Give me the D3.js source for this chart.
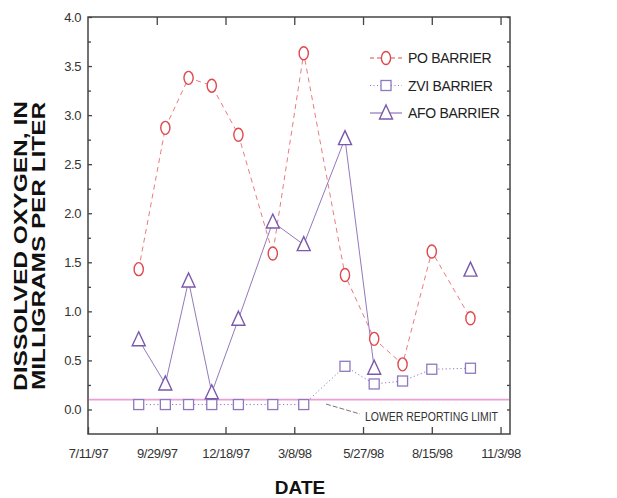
<!DOCTYPE html>
<html>
<head>
<meta charset="utf-8">
<script src="https://cdn.jsdelivr.net/npm/d3@7"></script>
<style>
  body { margin: 0; background: #fff; }
  svg { display: block; font-family: "Liberation Sans", Arial, Helvetica, sans-serif; }
</style>
</head>
<body>
<svg id="chart" width="617" height="498"></svg>
<script>
// ---- data ----
const sampleDates = ["1997-09-08","1997-10-09","1997-11-05","1997-12-02","1998-01-02","1998-02-11","1998-03-19","1998-05-06","1998-06-09","1998-07-12","1998-08-15","1998-09-29"];
const poBarrier  = [1.43, 2.87, 3.38, 3.30, 2.80, 1.59, 3.63, 1.37, 0.72, 0.46, 1.61, 0.93];
const zviBarrier = [0.05, 0.05, 0.05, 0.05, 0.05, 0.05, 0.05, 0.44, 0.26, 0.29, 0.41, 0.42];
const afoBarrier = [0.71, 0.26, 1.31, 0.17, 0.92, 1.91, 1.68, 2.76, 0.42, null, null, 1.42];
const xTickDates  = ["1997-07-11","1997-09-29","1997-12-18","1998-03-08","1998-05-27","1998-08-15","1998-11-03"];
const xTickLabels = ["7/11/97","9/29/97","12/18/97","3/8/98","5/27/98","8/15/98","11/3/98"];
const yMajorTicks = [0, 0.5, 1.0, 1.5, 2.0, 2.5, 3.0, 3.5, 4.0];
const yTickLabels = ["0.0","0.5","1.0","1.5","2.0","2.5","3.0","3.5","4.0"];
const yMinorTicks = [-0.25, 0.25, 0.75, 1.25, 1.75, 2.25, 2.75, 3.25, 3.75];
const lowerReportingLimit = 0.1;
const seriesNames = ["PO BARRIER", "ZVI BARRIER", "AFO BARRIER"];
const xDomain = ["1997-07-11", "1998-11-14"];
const yDomain = [-0.25, 4.0];

// ---- setup ----
const parse = d3.utcParse("%Y-%m-%d");
const svg = d3.select("#chart");
const L = 88, T = 17, R = 510, B = 434;
const x = d3.scaleUtc().domain(xDomain.map(parse)).range([L, R]);
const y = d3.scaleLinear().domain(yDomain).range([B, T]);

const axisColor = "#444";
const red = "#e0474c";
const purple = "#7a58ab";
const purpleLight = "#8f78bf";

// frame
svg.append("rect").attr("x", L).attr("y", T).attr("width", R - L).attr("height", B - T)
  .attr("fill", "none").attr("stroke", axisColor).attr("stroke-width", 1.5);

// x axes (ticks inward)
const xt = xTickDates.map(parse);
const fmtX = d => xTickLabels[xt.findIndex(t => +t === +d)];
const bottomAx = svg.append("g").attr("transform", `translate(0,${B})`)
  .call(d3.axisBottom(x).tickValues(xt).tickSize(-7).tickPadding(15).tickFormat(fmtX));
const topAx = svg.append("g").attr("transform", `translate(0,${T})`)
  .call(d3.axisTop(x).tickValues(xt.slice(1)).tickSize(-8).tickFormat(""));
// y axes
const leftAx = svg.append("g").attr("transform", `translate(${L},0)`)
  .call(d3.axisLeft(y).tickValues(yMajorTicks).tickSize(-4).tickPadding(7)
    .tickFormat((d, i) => yTickLabels[i]));
const leftMinor = svg.append("g").attr("transform", `translate(${L},0)`)
  .call(d3.axisLeft(y).tickValues(yMinorTicks.slice(1)).tickSize(-3).tickFormat(""));
const rightAx = svg.append("g").attr("transform", `translate(${R},0)`)
  .call(d3.axisRight(y).tickValues(yMajorTicks.concat(yMinorTicks.slice(1))).tickSize(-3).tickFormat(""));

[bottomAx, topAx, leftAx, leftMinor, rightAx].forEach(g => {
  g.select(".domain").remove();
  g.selectAll("line").attr("stroke", axisColor).attr("stroke-width", 1.3);
  g.selectAll("text").attr("fill", "#333").style("font-size", "13px")
    .style("font-family", "'Liberation Sans', Arial, sans-serif").attr("letter-spacing", "-0.4");
});

// lower reporting limit
svg.append("line").attr("x1", L + 1).attr("x2", R - 1)
  .attr("y1", y(lowerReportingLimit)).attr("y2", y(lowerReportingLimit))
  .attr("stroke", "#ec9fd6").attr("stroke-width", 1.8);
svg.append("line").attr("x1", 326).attr("y1", 404).attr("x2", 360).attr("y2", 414)
  .attr("stroke", "#666").attr("stroke-width", 0.9).attr("stroke-dasharray", "5,2");
svg.append("text").attr("x", 365).attr("y", 421).text("LOWER REPORTING LIMIT")
  .attr("textLength", 133).attr("lengthAdjust", "spacingAndGlyphs")
  .attr("fill", "#333").style("font-size", "13px");

// series
const dts = sampleDates.map(parse);
function seriesData(vals) { return vals.map((v, i) => ({ d: dts[i], v })); }
const line = d3.line().defined(p => p.v !== null).x(p => x(p.d)).y(p => y(p.v));

const po = seriesData(poBarrier), zvi = seriesData(zviBarrier), afo = seriesData(afoBarrier);

svg.append("path").datum(zvi).attr("d", line).attr("fill", "none")
  .attr("stroke", purpleLight).attr("stroke-width", 1).attr("stroke-dasharray", "1.2,2.5");
svg.append("path").datum(afo).attr("d", line).attr("fill", "none")
  .attr("stroke", purple).attr("stroke-width", 0.9).attr("opacity", 0.9);
svg.append("path").datum(po).attr("d", line).attr("fill", "none")
  .attr("stroke", red).attr("stroke-width", 0.9).attr("stroke-dasharray", "5,4").attr("opacity", 0.8);

function square(g, cx, cy) {
  g.append("rect").attr("x", cx - 5).attr("y", cy - 5).attr("width", 10).attr("height", 10)
    .attr("fill", "#fff").attr("stroke", purpleLight).attr("stroke-width", 1.3);
}
function triangle(g, cx, cy) {
  g.append("path").attr("d", `M${cx},${cy - 8}L${cx + 6.5},${cy + 6}L${cx - 6.5},${cy + 6}Z`)
    .attr("fill", "#fff").attr("stroke", purple).attr("stroke-width", 1.4);
}
function circle(g, cx, cy) {
  g.append("ellipse").attr("cx", cx).attr("cy", cy).attr("rx", 4.6).attr("ry", 6.5)
    .attr("fill", "#fff").attr("stroke", red).attr("stroke-width", 1.4);
}
const marks = svg.append("g");
zvi.filter(p => p.v !== null).forEach(p => square(marks, x(p.d), y(p.v)));
afo.filter(p => p.v !== null).forEach(p => triangle(marks, x(p.d), y(p.v)));
po.filter(p => p.v !== null).forEach(p => circle(marks, x(p.d), y(p.v)));

// legend
const lg = svg.append("g");
const rows = [
  { name: seriesNames[0], draw: circle, stroke: red, dash: "4,3" },
  { name: seriesNames[1], draw: square, stroke: purpleLight, dash: "1,2.5" },
  { name: seriesNames[2], draw: triangle, stroke: purple, dash: null }
];
rows.forEach((r, i) => {
  const yy = 58 + i * 27.5;
  lg.append("line").attr("x1", 370).attr("x2", 402).attr("y1", yy).attr("y2", yy)
    .attr("stroke", r.stroke).attr("stroke-width", 1).attr("stroke-dasharray", r.dash);
  r.draw(lg, 386, yy);
  lg.append("text").attr("x", 408).attr("y", yy + 5).text(r.name)
    .attr("fill", "#222").style("font-size", "14px").attr("letter-spacing", "-0.3");
});

// axis titles
svg.append("text").attr("x", 300).attr("y", 494).attr("text-anchor", "middle")
  .text("DATE").style("font-size", "19px").style("font-weight", "bold").attr("fill", "#111");
const yt = svg.append("g").attr("transform", "translate(0,246) rotate(-90)");
yt.append("text").attr("x", 0).attr("y", 27).attr("text-anchor", "middle")
  .text("DISSOLVED OXYGEN, IN").attr("textLength", 290).attr("lengthAdjust", "spacingAndGlyphs")
  .style("font-size", "18px").style("font-weight", "bold").attr("fill", "#111");
yt.append("text").attr("x", 0).attr("y", 45).attr("text-anchor", "middle")
  .text("MILLIGRAMS PER LITER").attr("textLength", 288).attr("lengthAdjust", "spacingAndGlyphs")
  .style("font-size", "18px").style("font-weight", "bold").attr("fill", "#111");
</script>
</body>
</html>
